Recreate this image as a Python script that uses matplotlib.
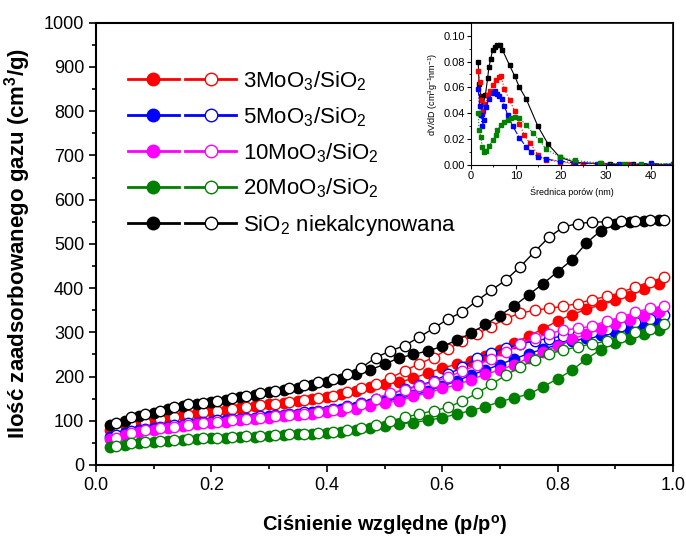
import numpy as np
import matplotlib
matplotlib.use("Agg")
import matplotlib.pyplot as plt
from matplotlib.legend_handler import HandlerTuple
from matplotlib.lines import Line2D
from matplotlib.ticker import MultipleLocator

plt.rcParams['font.family'] = ['Liberation Sans', 'DejaVu Sans']
plt.rcParams['mathtext.fontset'] = 'custom'
plt.rcParams['mathtext.rm'] = 'Liberation Sans'
plt.rcParams['mathtext.it'] = 'Liberation Sans:italic'
plt.rcParams['mathtext.bf'] = 'Liberation Sans:bold'

# cisnienie wzgledne - adsorpcja i desorpcja
p_ads = [0.025, 0.05, 0.075, 0.10, 0.125, 0.15, 0.175, 0.20, 0.225, 0.25,
         0.275, 0.30, 0.325, 0.35, 0.375, 0.40, 0.425, 0.45, 0.475, 0.50,
         0.525, 0.55, 0.575, 0.60, 0.625, 0.65, 0.675, 0.70, 0.725, 0.75,
         0.775, 0.80, 0.825, 0.85, 0.875, 0.90, 0.925, 0.95, 0.975]
p_des = [0.035, 0.06, 0.085, 0.11, 0.135, 0.16, 0.185, 0.21, 0.235, 0.26,
         0.285, 0.31, 0.335, 0.36, 0.385, 0.41, 0.435, 0.46, 0.485, 0.51,
         0.535, 0.56, 0.585, 0.61, 0.635, 0.66, 0.685, 0.71, 0.735, 0.76,
         0.785, 0.81, 0.835, 0.86, 0.885, 0.91, 0.935, 0.96, 0.985]

mo3_ads = [78, 88, 95, 101, 106, 112, 117, 121, 125, 129, 133, 137, 141, 145, 149,
           153, 160, 168, 176, 183, 187, 196, 208, 219, 228, 236, 246, 260, 276, 292,
           308, 326, 340, 352, 362, 372, 383, 397, 410]
mo3_des = [82, 92, 98, 104, 109, 114, 119, 123, 127, 131, 135, 139, 143, 147, 151,
           157, 165, 175, 184, 197, 213, 229, 243, 262, 280, 296, 313, 331, 343, 350,
           354, 359, 365, 374, 381, 390, 403, 414, 425]
mo5_ads = [63, 72, 78, 83, 87, 91, 95, 98, 101, 104, 107, 110, 113, 116, 119,
           122, 126, 131, 137, 144, 150, 158, 167, 178, 190, 203, 215, 227, 240, 252,
           262, 272, 280, 287, 293, 300, 306, 313, 322]
mo5_des = [67, 76, 81, 86, 90, 94, 98, 101, 104, 107, 110, 113, 116, 119, 122,
           127, 133, 141, 150, 160, 171, 180, 190, 205, 221, 242, 254, 264, 273, 281,
           286, 292, 296, 301, 308, 315, 323, 331, 340]
mo10_ads = [58, 68, 75, 80, 84, 88, 92, 95, 98, 101, 104, 107, 110, 113, 116,
            119, 123, 127, 133, 140, 145, 155, 163, 173, 181, 193, 205, 215, 227, 242,
            255, 270, 284, 296, 308, 318, 327, 338, 346]
mo10_des = [62, 72, 78, 83, 87, 91, 95, 98, 101, 104, 107, 110, 113, 116, 119,
            124, 130, 138, 150, 163, 170, 178, 188, 199, 212, 226, 240, 255, 274, 287,
            297, 305, 309, 314, 326, 334, 346, 354, 360]
mo20_ads = [40, 46, 50, 53, 55, 57, 59, 60, 62, 63, 64, 66, 67, 69, 70,
            72, 75, 79, 84, 89, 93, 96, 101, 107, 115, 123, 132, 143, 152, 160,
            177, 195, 214, 240, 261, 276, 285, 296, 305]
mo20_des = [43, 49, 52, 55, 57, 59, 61, 62, 64, 65, 66, 68, 69, 71, 72,
            75, 79, 84, 91, 100, 108, 115, 123, 130, 145, 162, 182, 203, 221, 238,
            251, 260, 267, 274, 280, 290, 300, 308, 318]
si_ads = [90, 100, 110, 118, 126, 133, 138, 143, 148, 153, 159, 164, 169, 175, 181,
          187, 195, 205, 215, 228, 242, 250, 258, 268, 282, 298, 318, 338, 360, 385,
          410, 437, 464, 502, 530, 545, 550, 552, 554]
si_des = [95, 108, 115, 122, 130, 137, 141, 145, 151, 157, 163, 167, 173, 181, 188,
          194, 206, 220, 243, 258, 270, 289, 309, 330, 346, 371, 395, 418, 448, 482,
          515, 538, 546, 549, 550, 551, 552, 553, 555]

labels = ['3MoO$_3$/SiO$_2$', '5MoO$_3$/SiO$_2$', '10MoO$_3$/SiO$_2$',
          '20MoO$_3$/SiO$_2$', 'SiO$_2$ niekalcynowana']
colors = ['#ff0000', '#0000ff', '#ff00ff', '#008000', '#000000']
ads = [mo3_ads, mo5_ads, mo10_ads, mo20_ads, si_ads]
des = [mo3_des, mo5_des, mo10_des, mo20_des, si_des]

# rozklad porow (wstawka)
d_si = [1.6, 1.8, 2.2, 2.7, 3.2, 3.7, 4.0, 4.4, 4.8, 5.4, 5.9, 6.4, 7.0, 8.6, 9.7,
        10.8, 12.3, 14.9, 17.2, 19.8, 23.2, 28.8, 31.0, 36.0, 40.0, 45.0]
v_si = [0.080, 0.063, 0.053, 0.047, 0.054, 0.067, 0.076, 0.082, 0.089, 0.091, 0.093,
        0.0925, 0.089, 0.077, 0.069, 0.060, 0.051, 0.030, 0.016, 0.006, 0.002, 0.001,
        0.0005, 0.0004, 0.0003, 0.0003]
d_mo3 = [1.6, 1.9, 2.2, 2.7, 3.2, 3.7, 4.2, 4.8, 5.6, 6.3, 6.7, 7.4, 8.6, 9.7, 10.8,
         11.9, 13.1, 14.9, 16.8, 19.8, 22.8, 25.0, 29.0, 35.0, 40.0, 45.0]
v_mo3 = [0.0727, 0.064, 0.050, 0.042, 0.047, 0.054, 0.057, 0.062, 0.066, 0.068, 0.069,
         0.059, 0.050, 0.042, 0.032, 0.023, 0.017, 0.008, 0.004, 0.0025, 0.001, 0.0008,
         0.0015, 0.0005, 0.0004, 0.0003]
d_mo5 = [1.6, 1.9, 2.2, 2.5, 2.9, 3.3, 4.0, 4.8, 5.4, 5.9, 6.3, 6.9, 7.4, 8.2, 9.3,
         10.8, 12.3, 13.4, 14.9, 16.8, 19.8, 23.2, 28.0, 33.0, 40.0, 45.0]
v_mo5 = [0.059, 0.046, 0.0385, 0.030, 0.035, 0.045, 0.051, 0.056, 0.057, 0.055, 0.053,
         0.051, 0.046, 0.0385, 0.030, 0.021, 0.014, 0.010, 0.0064, 0.0045, 0.003, 0.0015,
         0.001, 0.0008, 0.0012, 0.0005]
d_mo20 = [1.6, 1.8, 2.2, 2.5, 2.9, 3.3, 4.0, 4.8, 5.6, 5.9, 6.7, 7.4, 8.2, 8.9, 9.7,
          10.8, 12.3, 13.8, 15.3, 16.8, 19.8, 23.2, 28.8, 34.0, 37.8, 45.0]
v_mo20 = [0.040, 0.027, 0.022, 0.014, 0.010, 0.011, 0.0147, 0.019, 0.023, 0.027, 0.031,
          0.0334, 0.035, 0.036, 0.037, 0.036, 0.031, 0.0245, 0.019, 0.012, 0.0064,
          0.0035, 0.0015, 0.001, 0.001, 0.001]

fig = plt.figure(figsize=(6.86, 5.41), dpi=100)
ax = fig.add_axes([0.140, 0.1405, 0.841, 0.8175])

for i in range(5):
    ax.plot(p_ads, ads[i], '-o', color=colors[i], mfc=colors[i], mec=colors[i],
            ms=7.5, lw=1, mew=1)
    ax.plot(p_des, des[i], '-o', color=colors[i], mfc='white', mec=colors[i],
            ms=7.5, lw=1, mew=1)

ax.set_xlim(0, 1.0)
ax.set_ylim(0, 1000)
ax.xaxis.set_major_locator(MultipleLocator(0.2))
ax.xaxis.set_minor_locator(MultipleLocator(0.1))
ax.yaxis.set_major_locator(MultipleLocator(100))
ax.yaxis.set_minor_locator(MultipleLocator(50))
ax.xaxis.set_major_formatter(matplotlib.ticker.FormatStrFormatter('%.1f'))
ax.tick_params(which='major', direction='out', length=5, width=1.2, labelsize=13)
ax.tick_params(which='minor', direction='out', length=3, width=1.2)
for s in ax.spines.values():
    s.set_linewidth(1.5)
ax.set_xlabel('Ciśnienie względne (p/p$^\\mathbf{o}$)', fontsize=14.5,
              fontweight='bold', labelpad=14)
ax.set_ylabel('Ilość zaadsorbowanego gazu (cm$^\\mathbf{3}$/g)', fontsize=16,
              fontweight='bold', labelpad=8)

handles = []
for i in range(5):
    h1 = Line2D([], [], color=colors[i], lw=2, marker='o', ms=9, mfc=colors[i], mec=colors[i])
    h2 = Line2D([], [], color=colors[i], lw=2, marker='o', ms=9, mfc='white', mec=colors[i])
    handles.append((h1, h2))
ax.legend(handles, labels, handler_map={tuple: HandlerTuple(ndivide=None, pad=0.25)},
          loc='upper left', bbox_to_anchor=(0.02, 0.94), frameon=False,
          fontsize=16, handlelength=4.9, handletextpad=0.3, labelspacing=0.55)

# wstawka
ins = fig.add_axes([0.6866, 0.695, 0.2944, 0.263])
ins.plot(d_si, v_si, '-s', color='black', ms=2.5, lw=0.8)
ins.plot(d_mo3, v_mo3, ':s', color='red', ms=2.5, lw=0.8)
ins.plot(d_mo5, v_mo5, '-.s', color='blue', ms=2.5, lw=0.8)
ins.plot(d_mo20, v_mo20, ':s', color='green', ms=2.5, lw=0.8)
ins.set_xlim(0, 45)
ins.set_ylim(0, 0.11)
ins.xaxis.set_major_locator(MultipleLocator(10))
ins.xaxis.set_minor_locator(MultipleLocator(5))
ins.yaxis.set_major_locator(MultipleLocator(0.02))
ins.yaxis.set_minor_locator(MultipleLocator(0.01))
ins.yaxis.set_major_formatter(matplotlib.ticker.FormatStrFormatter('%.2f'))
ins.tick_params(which='major', direction='out', length=3, width=0.8, labelsize=8, pad=1.5)
ins.tick_params(which='minor', direction='out', length=1.5, width=0.6)
for s in ins.spines.values():
    s.set_linewidth(1.2)
ins.spines['left'].set_linewidth(0.8)
ins.spines['bottom'].set_linewidth(0.8)
ins.set_xlabel('Średnica porów (nm)', fontsize=6.5, labelpad=4)
ins.set_ylabel('dV/dD (cm$^3$g$^{-1}$nm$^{-1}$)', fontsize=6.5, labelpad=2)

fig.savefig('out.png', dpi=100)
